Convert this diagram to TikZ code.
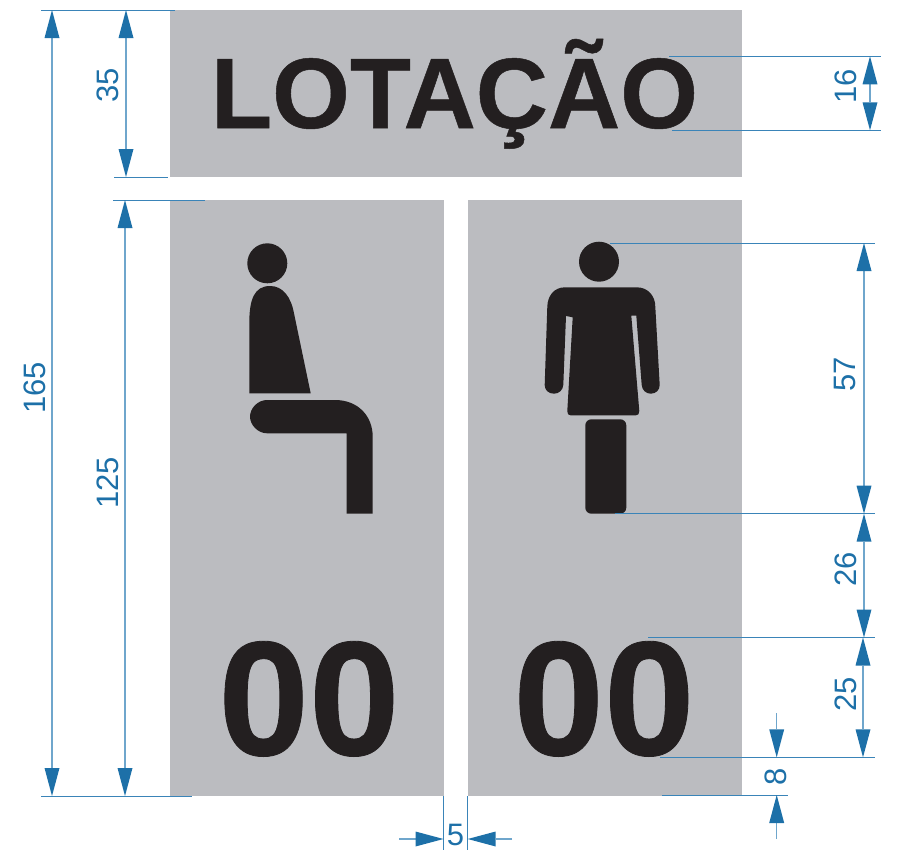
\documentclass[tikz,border=0pt]{standalone}
\usepackage{fontspec}
\setmainfont{Liberation Sans}
\newfontfamily\heavyfont{Liberation Sans Bold}[FakeBold=0.5]
\usetikzlibrary{arrows.meta}
\definecolor{panel}{HTML}{BBBCC0}
\definecolor{ink}{HTML}{231F20}
\definecolor{dimblue}{HTML}{1D70A8}
\definecolor{dimline}{HTML}{6FA6CC}
\definecolor{extline}{HTML}{3A84B8}
\tikzset{
  panelbox/.style={fill=panel,draw=none},
  figure/.style={fill=ink,draw=none},
  dimtip/.tip={Triangle[length=28pt,width=15pt,color=dimblue,line width=0pt]},
  dimarrow/.style={draw=dimline,line width=1.2pt},
  extension/.style={draw=extline,line width=1pt},
  dimtext/.style={text=dimblue,font=\fontsize{31}{31}\selectfont,inner sep=0pt,outer sep=0pt},
  vdim/.style={dimtext,rotate=90},
  bigtitle/.style={text=ink,font=\heavyfont\fontsize{100}{100}\selectfont,inner sep=0pt,anchor=base},
  bignum/.style={text=ink,font=\heavyfont\fontsize{163}{163}\selectfont,inner sep=0pt,anchor=base}
}
\begin{document}
\begin{tikzpicture}[x=1pt,y=-1pt]
\useasboundingbox (0,0) rectangle (906,854);
% panels
\fill[panelbox] (170,10) rectangle (742,177);
\fill[panelbox] (170,200) rectangle (444,796);
\fill[panelbox] (468,200) rectangle (742,796);
% texts
\node[bigtitle] (title) at (454.5,128) {LOTAÇÃO};
\node[bignum] (numL) at (309,755) {00};
\node[bignum] (numR) at (604,755) {00};
% seated figure
\fill[figure] (267.3,263.3) circle (20);
\fill[figure] (249.3,393.3) -- (249.3,323) .. controls (249.3,300) and (254,286) .. (270,286)
  .. controls (283,286) and (291,297) .. (294,313.3) -- (310.7,393.3) -- cycle;
\fill[figure] (267,400) -- (335,400) .. controls (358,400) and (372.7,416) .. (372.7,436.7)
  -- (372.7,513.7) -- (346.7,513.7) -- (346.7,433.3) -- (267,433.3)
  .. controls (258,433.3) and (250,425) .. (250,416.7) .. controls (250,408) and (258,400) .. (267,400) -- cycle;
% standing figure
\fill[figure] (599,261.7) circle (20);
\fill[figure] (565,287.3) -- (636.7,287.3) .. controls (648,287.3) and (655.3,296) .. (655.3,306.7)
  -- (659.7,385) .. controls (659.7,390) and (656,393.7) .. (650.7,393.7)
  .. controls (646,393.7) and (642,390) .. (641.7,385)
  -- (636.3,315.7) -- (631.3,315.7) -- (639.3,411) .. controls (639.5,414) and (638,415.3) .. (636,415.3)
  -- (570.5,415.3) .. controls (568.5,415.3) and (567.1,414) .. (567.3,411)
  -- (572.7,317.3) -- (566,316) -- (563.3,385) .. controls (563,390) and (559,393.7) .. (554,393.7)
  .. controls (548.5,393.7) and (544.6,390) .. (544.7,385)
  -- (547.3,306.7) .. controls (547.5,296) and (554,287.3) .. (565,287.3) -- cycle;
\fill[figure,rounded corners=6pt] (585.3,419.3) rectangle (626.3,513.7);
% coordinates of dimension ends
\coordinate (a165t) at (52,10);   \coordinate (a165b) at (52,796);
\coordinate (a35t) at (126,10);   \coordinate (a35b) at (126,177);
\coordinate (a125t) at (125,200); \coordinate (a125b) at (125,796);
\coordinate (a16t) at (870,56.3); \coordinate (a16b) at (870,130.3);
\coordinate (a57t) at (864,243);  \coordinate (a57b) at (864,513.7);
\coordinate (a26t) at (864,513.7);\coordinate (a26b) at (864,637.5);
\coordinate (a25t) at (863,637.5);\coordinate (a25b) at (863,757.3);
\coordinate (a8tf) at (776.7,713);\coordinate (a8t) at (776.7,757.3);
\coordinate (a8bf) at (776.7,839);\coordinate (a8b) at (776.7,795);
\coordinate (a5lf) at (399,839);  \coordinate (a5l) at (443.5,839);
\coordinate (a5rf) at (512,839);  \coordinate (a5r) at (467.7,839);
% extension lines
\coordinate (e1a) at (41,10);    \coordinate (e1b) at (175,10);
\coordinate (e2a) at (41,796);   \coordinate (e2b) at (192,796);
\coordinate (e3a) at (114,177);  \coordinate (e3b) at (168,177);
\coordinate (e4a) at (113,200);  \coordinate (e4b) at (205,200);
\coordinate (e5a) at (669,56.3); \coordinate (e5b) at (881,56.3);
\coordinate (e6a) at (672,130.3);\coordinate (e6b) at (881,130.3);
\coordinate (e7a) at (610,243);  \coordinate (e7b) at (875,243);
\coordinate (e8a) at (615,513.7);\coordinate (e8b) at (875,513.7);
\coordinate (e9a) at (648,637.5);\coordinate (e9b) at (875,637.5);
\coordinate (e10a) at (660,757.3);\coordinate (e10b) at (875,757.3);
\coordinate (e11a) at (662,795); \coordinate (e11b) at (788,795);
\coordinate (e12a) at (443.5,796);\coordinate (e12b) at (443.5,850);
\coordinate (e13a) at (467.7,796);\coordinate (e13b) at (467.7,850);
\foreach \n in {1,...,13} \draw[extension] (e\n a) -- (e\n b);
% dimension arrows
\draw[dimarrow,{dimtip}-{dimtip}] (a165t) -- (a165b);
\draw[dimarrow,{dimtip}-{dimtip}] (a35t) -- (a35b);
\draw[dimarrow,{dimtip}-{dimtip}] (a125t) -- (a125b);
\draw[dimarrow,{dimtip}-{dimtip}] (a16t) -- (a16b);
\draw[dimarrow,{dimtip}-{dimtip}] (a57t) -- (a57b);
\draw[dimarrow,{dimtip}-{dimtip}] (a26t) -- (a26b);
\draw[dimarrow,{dimtip}-{dimtip}] (a25t) -- (a25b);
\draw[dimarrow,-{dimtip}] (a8tf) -- (a8t);
\draw[dimarrow,-{dimtip}] (a8bf) -- (a8b);
\draw[dimarrow,-{dimtip}] (a5lf) -- (a5l);
\draw[dimarrow,-{dimtip}] (a5rf) -- (a5r);
% dimension labels
\node[vdim] (t165) at (35,388) {165};
\node[vdim] (t35) at (108,85) {35};
\node[vdim] (t125) at (108,483) {125};
\node[vdim] (t16) at (846,86) {16};
\node[vdim] (t57) at (845,374) {57};
\node[vdim] (t26) at (846,569) {26};
\node[vdim] (t25) at (846,694) {25};
\node[vdim] (t8) at (776,777) {8};
\node[dimtext] (t5) at (455.5,835) {5};
\end{tikzpicture}
\end{document}
